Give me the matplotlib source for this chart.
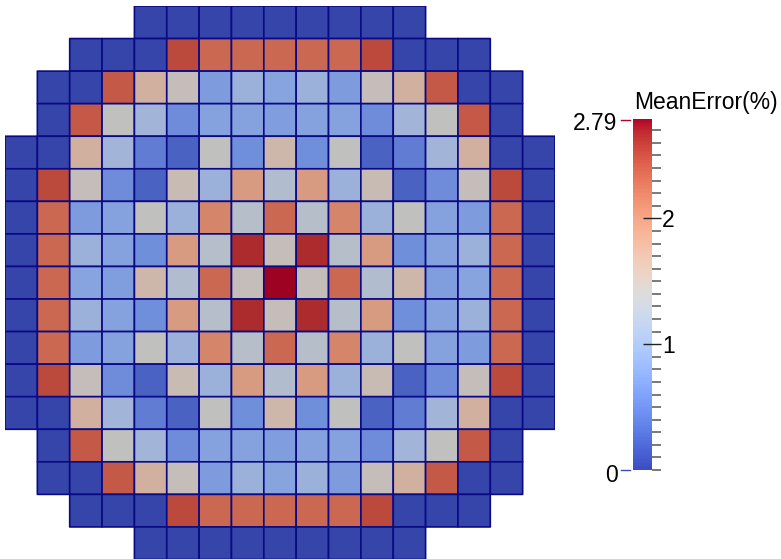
import numpy as np
import matplotlib
matplotlib.use("Agg")
import matplotlib.pyplot as plt
from matplotlib.colors import ListedColormap, Normalize
from matplotlib.cm import ScalarMappable
from matplotlib.lines import Line2D
from matplotlib.ticker import MultipleLocator

plt.rcParams['font.family'] = ['Liberation Sans', 'DejaVu Sans']

n = np.nan

# mean error per assembly (%), core map rows listed top to bottom
mean_error = np.array([
    [n, n, n, n, 0.03, 0.03, 0.03, 0.03, 0.03, 0.03, 0.03, 0.03, 0.03, n, n, n, n],
    [n, n, 0.03, 0.03, 0.03, 2.50, 2.30, 2.30, 2.30, 2.30, 2.30, 2.50, 0.03, 0.03, 0.03, n, n],
    [n, 0.03, 0.03, 2.40, 1.67, 1.45, 0.72, 1.00, 0.82, 1.00, 0.72, 1.45, 1.67, 2.40, 0.03, 0.03, n],
    [n, 0.03, 2.40, 1.40, 1.06, 0.58, 0.80, 0.80, 0.75, 0.80, 0.80, 0.58, 1.06, 1.40, 2.40, 0.03, n],
    [0.03, 0.03, 1.67, 1.06, 0.45, 0.25, 1.40, 0.60, 1.58, 0.60, 1.40, 0.25, 0.45, 1.06, 1.67, 0.03, 0.03],
    [0.03, 2.50, 1.45, 0.58, 0.25, 1.50, 1.00, 1.90, 1.22, 1.90, 1.00, 1.50, 0.25, 0.58, 1.45, 2.50, 0.03],
    [0.03, 2.30, 0.72, 0.80, 1.40, 1.00, 2.10, 1.28, 2.30, 1.28, 2.10, 1.00, 1.40, 0.80, 0.72, 2.30, 0.03],
    [0.03, 2.30, 1.00, 0.80, 0.60, 1.90, 1.28, 2.65, 1.45, 2.65, 1.28, 1.90, 0.60, 0.80, 1.00, 2.30, 0.03],
    [0.03, 2.30, 0.82, 0.75, 1.58, 1.22, 2.30, 1.45, 2.79, 1.45, 2.30, 1.22, 1.58, 0.75, 0.82, 2.30, 0.03],
    [0.03, 2.30, 1.00, 0.80, 0.60, 1.90, 1.28, 2.65, 1.45, 2.65, 1.28, 1.90, 0.60, 0.80, 1.00, 2.30, 0.03],
    [0.03, 2.30, 0.72, 0.80, 1.40, 1.00, 2.10, 1.28, 2.30, 1.28, 2.10, 1.00, 1.40, 0.80, 0.72, 2.30, 0.03],
    [0.03, 2.50, 1.45, 0.58, 0.25, 1.50, 1.00, 1.90, 1.22, 1.90, 1.00, 1.50, 0.25, 0.58, 1.45, 2.50, 0.03],
    [0.03, 0.03, 1.67, 1.06, 0.45, 0.25, 1.40, 0.60, 1.58, 0.60, 1.40, 0.25, 0.45, 1.06, 1.67, 0.03, 0.03],
    [n, 0.03, 2.40, 1.40, 1.06, 0.58, 0.80, 0.80, 0.75, 0.80, 0.80, 0.58, 1.06, 1.40, 2.40, 0.03, n],
    [n, 0.03, 0.03, 2.40, 1.67, 1.45, 0.72, 1.00, 0.82, 1.00, 0.72, 1.45, 1.67, 2.40, 0.03, 0.03, n],
    [n, n, 0.03, 0.03, 0.03, 2.50, 2.30, 2.30, 2.30, 2.30, 2.30, 2.50, 0.03, 0.03, 0.03, n, n],
    [n, n, n, n, 0.03, 0.03, 0.03, 0.03, 0.03, 0.03, 0.03, 0.03, 0.03, n, n, n, n],
])

vmin, vmax = 0.0, 2.79
cbar_ticks = [1, 2]
cbar_title = "MeanError(%)"

W, H = 781, 559
fig = plt.figure(figsize=(W / 100, H / 100), dpi=100)

# shaded version of coolwarm for the lit mesh surface
base = plt.get_cmap("coolwarm")
rgb = base(np.linspace(0, 1, 256))
rgb[:, :3] *= 0.87
shaded = ListedColormap(rgb)

ax = fig.add_axes([5 / W, -0.5 / H, 550 / W, 553.5 / H])
ax.pcolor(np.ma.masked_invalid(mean_error), cmap=shaded, vmin=vmin, vmax=vmax,
          edgecolors="#0a0a84", linewidth=1.2)
ax.set_xlim(0, 17)
ax.set_ylim(17, 0)
ax.axis("off")

# colour legend
cax = fig.add_axes([633 / W, (H - 470) / H, 19 / W, 351 / H])
sm = ScalarMappable(norm=Normalize(vmin, vmax), cmap=base)
cb = fig.colorbar(sm, cax=cax)
cb.outline.set_visible(False)
cb.set_ticks(cbar_ticks)
cb.set_ticklabels([str(t) for t in cbar_ticks])
cax.yaxis.set_minor_locator(MultipleLocator(0.1))
cax.tick_params(which="major", direction="inout", length=12.5, width=1.0,
                color="#222222", labelsize=16.5, pad=1)
cax.tick_params(which="minor", direction="out", length=6.5, width=1.1,
                color="#555555")

fig.text(634 / W, 1 - 109 / H, cbar_title, ha="left", va="baseline", fontsize=16.5)
fig.text(617 / W, 1 - 123 / H, "2.79", ha="right", va="center", fontsize=16.5)
fig.text(618 / W, 1 - 475 / H, "0", ha="right", va="center", fontsize=16.5)
fig.add_artist(Line2D([621 / W, 630 / W], [1 - 119.5 / H] * 2, color="#b40426", lw=1))
fig.add_artist(Line2D([621 / W, 630 / W], [1 - 470 / H] * 2, color="#3b4cc0", lw=1))

fig.savefig("out.png", dpi=100)
